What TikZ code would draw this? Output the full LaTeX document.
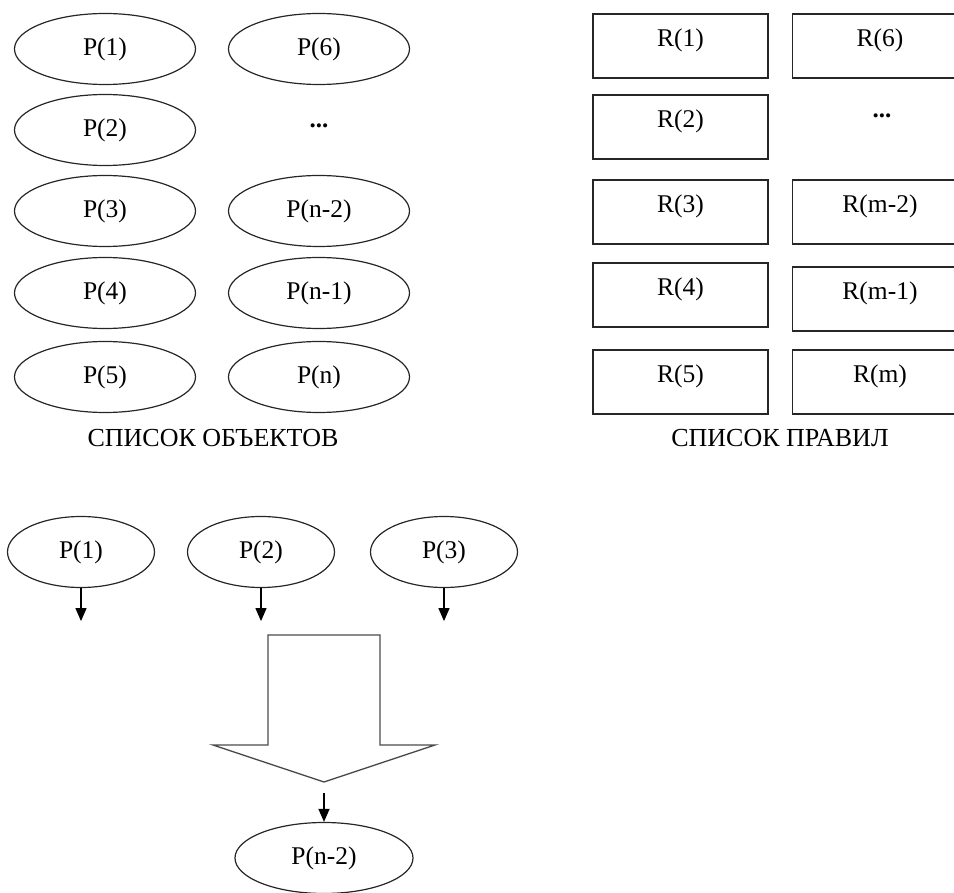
\documentclass[tikz,border=0pt]{standalone}
\usepackage{fontspec}
\setmainfont{Liberation Serif}
\usetikzlibrary{shapes.geometric,arrows.meta}
\begin{document}
\begin{tikzpicture}[x=1pt,y=-1pt,
  every node/.style={font=\fontsize{25.5}{30}\selectfont},
  obj/.style={draw=black!85,line width=1.2pt,ellipse,inner sep=0pt,minimum width=181pt,minimum height=71pt},
  objs/.style={obj,minimum width=147pt},
  rule/.style={draw=black!85,line width=1.6pt,rectangle,inner xsep=0pt,inner ysep=0pt,minimum width=175pt,text height=33pt,text depth=31pt},
  caption/.style={font=\fontsize{26}{30}\selectfont},
  dots/.style={font=\fontsize{25}{30}\selectfont\bfseries},
  conn/.style={line width=1.2pt,-{Triangle[width=11pt,length=13pt]}}]
\useasboundingbox (0,0) rectangle (954,893);
% objects list
\node[obj] (p1) at (105,49) {P(1)};
\node[obj] (p2) at (105,130) {P(2)};
\node[obj] (p3) at (105,211) {P(3)};
\node[obj] (p4) at (105,293) {P(4)};
\node[obj] (p5) at (105,377) {P(5)};
\node[obj] (p6) at (319,49) {P(6)};
\node[dots] (pd) at (319,126) {...};
\node[obj] (pn2) at (319,211) {P(n-2)};
\node[obj] (pn1) at (319,293) {P(n-1)};
\node[obj] (pn) at (319,377) {P(n)};
\node[caption] (cap1) at (213,438) {СПИСОК ОБЪЕКТОВ};
% rules list
\node[rule,anchor=north] (r1) at (680.5,13) {R(1)};
\node[rule,anchor=north] (r2) at (680.5,94) {R(2)};
\node[rule,anchor=north] (r3) at (680.5,179) {R(3)};
\node[rule,anchor=north] (r4) at (680.5,262) {R(4)};
\node[rule,anchor=north] (r5) at (680.5,349) {R(5)};
\node[rule,anchor=north] (r6) at (880,13) {R(6)};
\node[dots] (rd) at (882,116) {...};
\node[rule,anchor=north] (rm2) at (880,179) {R(m-2)};
\node[rule,anchor=north] (rm1) at (880,266) {R(m-1)};
\node[rule,anchor=north] (rm) at (880,349) {R(m)};
\node[caption] (cap2) at (780,438) {СПИСОК ПРАВИЛ};
% bottom
\node[objs] (b1) at (81,552) {P(1)};
\node[objs] (b2) at (261,552) {P(2)};
\node[objs] (b3) at (444,552) {P(3)};
\coordinate (e1) at ([yshift=-33pt]b1.south);
\coordinate (e2) at ([yshift=-33pt]b2.south);
\coordinate (e3) at ([yshift=-33pt]b3.south);
\draw[conn] (b1.south) -- (e1);
\draw[conn] (b2.south) -- (e2);
\draw[conn] (b3.south) -- (e3);
\draw[draw=black!70,line width=1.4pt,line join=miter]
  (268,635) -- (380,635) -- (380,745) -- (435,745) -- (324,782) -- (213,745) -- (268,745) -- cycle;
\node[obj,minimum width=178pt] (res) at (324,858) {P(n-2)};
\coordinate (bs) at (324,793);
\draw[conn] (bs) -- (res.north);
\end{tikzpicture}
\end{document}
